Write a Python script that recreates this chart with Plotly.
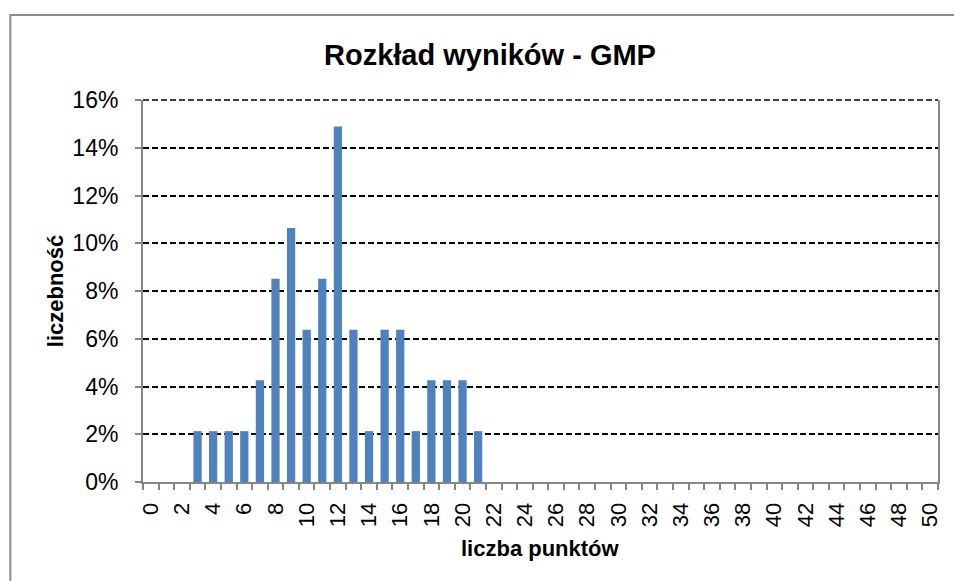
import plotly.graph_objects as go

# punkty 0..50, udział wyników
punkty = list(range(0, 51))
liczebnosc = [0, 0, 0, 0.0213, 0.0213, 0.0213, 0.0213, 0.0426, 0.0851, 0.1064,
              0.0638, 0.0851, 0.1489, 0.0638, 0.0213, 0.0638, 0.0638, 0.0213, 0.0426, 0.0426,
              0.0426, 0.0213] + [0] * 29
etykiety_x = [str(p) for p in range(0, 51, 2)]
y_ticks = [0, 0.02, 0.04, 0.06, 0.08, 0.10, 0.12, 0.14, 0.16]

W, H = 954, 581
L, R, T, B = 143, 940, 100, 482  # plot area in px
AXIS_GREY = "#868686"
FONT = "Liberation Sans, Arial, sans-serif"
DASH = "6px,3px"


def px_x(x):
    return (x - L) / (R - L)


def px_y(y):
    return (B - y) / (B - T)


fig = go.Figure()
fig.add_trace(go.Bar(x=punkty, y=liczebnosc, marker=dict(color="#4F81BD", line=dict(width=0))))

fig.update_layout(
    width=W, height=H,
    margin=dict(l=L, r=W - R, t=T, b=H - B, pad=0),
    paper_bgcolor="white", plot_bgcolor="white",
    showlegend=False,
    bargap=0.47,
    font=dict(family=FONT, color="black"),
    title=dict(text="<b>Rozkład wyników - GMP</b>", font=dict(size=29, family=FONT),
               xref="container", x=490 / W, xanchor="center",
               yref="container", y=1 - 55 / H, yanchor="middle"),
)

fig.update_xaxes(
    range=[-0.5, 50.5], tickmode="array",
    tickvals=list(range(0, 51, 2)), ticktext=etykiety_x,
    tickangle=-90, tickfont=dict(size=22),
    ticks="", showgrid=False, zeroline=False,
    showline=True, linecolor=AXIS_GREY, linewidth=2,
    minor=dict(tick0=-0.5, dtick=1, ticks="outside", ticklen=6, tickcolor=AXIS_GREY,
               tickwidth=1.5, showgrid=False),
    ticklabelstandoff=10,
)
fig.update_yaxes(
    range=[0, 0.16], tickmode="array", tickvals=y_ticks, tickformat=".0%",
    tickfont=dict(size=23),
    ticks="outside", ticklen=6, tickcolor=AXIS_GREY, tickwidth=1.5,
    showline=True, linecolor=AXIS_GREY, linewidth=2, mirror=True,
    showgrid=True, gridcolor="black", gridwidth=1.5, griddash=DASH,
    zeroline=False, ticklabelstandoff=12,
)

# górna linia siatki (16%) na krawędzi obszaru wykresu
fig.add_shape(type="line", xref="paper", yref="paper", x0=0, x1=1, y0=1, y1=1,
              line=dict(color="black", width=1.5, dash=DASH))

# ramka wykresu
fig.add_shape(type="rect", xref="paper", yref="paper",
              x0=px_x(10), x1=px_x(975), y0=px_y(15), y1=px_y(600),
              line=dict(color="#8C8C8C", width=2), layer="below")

fig.add_annotation(text="<b>liczebność</b>", xref="paper", yref="paper",
                   x=px_x(55), y=px_y(291), showarrow=False, textangle=-90,
                   font=dict(size=22, family=FONT), xanchor="center", yanchor="middle")
fig.add_annotation(text="<b>liczba punktów</b>", xref="paper", yref="paper",
                   x=px_x(541), y=px_y(548), showarrow=False,
                   font=dict(size=22, family=FONT), xanchor="center", yanchor="middle")

fig.write_html("out.html", config={"displayModeBar": False},
               post_script="document.body.style.margin = '0';")
